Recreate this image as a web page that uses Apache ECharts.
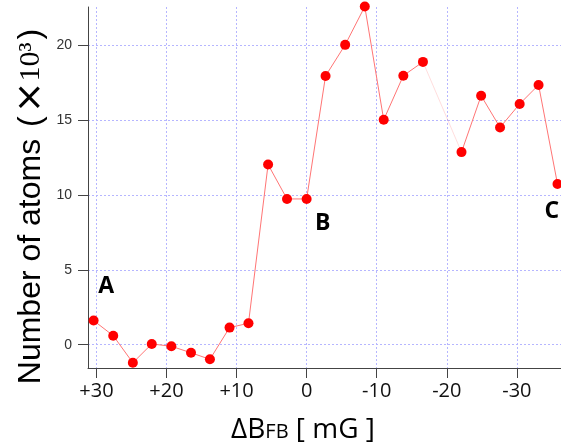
<!DOCTYPE html>
<html>
<head>
<meta charset="utf-8">
<script src="https://cdn.jsdelivr.net/npm/echarts@6/dist/echarts.min.js"></script>
<style>
html,body{margin:0;padding:0;background:#fff;}
#chart{width:561px;height:448px;}
</style>
</head>
<body>
<div id="chart"></div>
<script>
// Data
var deltaB = [30.4, 27.6, 24.8, 22.1, 19.3, 16.5, 13.8, 11.0, 8.3, 5.5, 2.8, 0, -2.7, -5.5, -8.3, -11.0, -13.8, -16.6, -22.1, -24.9, -27.6, -30.4, -33.1, -35.8];
var atoms = [1.61, 0.60, -1.21, 0.05, -0.11, -0.54, -0.98, 1.14, 1.43, 12.04, 9.74, 9.74, 17.96, 20.04, 22.6, 15.03, 17.98, 18.9, 12.87, 16.64, 14.52, 16.09, 17.36, 10.74];
var breakIndex = 18; // faint segment between index 17 and 18
var xTicks = [30, 20, 10, 0, -10, -20, -30];
var yTicks = [0, 5, 10, 15, 20];
var annotLabels = ['A', 'B', 'C'];
var annotX = [28.6, -2.3, -35.0];
var annotY = [3.9, 8.1, 8.9];

var pts = deltaB.map(function (x, i) { return [x, atoms[i]]; });
var part1 = pts.slice(0, breakIndex);
var part2 = pts.slice(breakIndex);
var faint = [pts[breakIndex - 1], pts[breakIndex]];
var annots = annotLabels.map(function (t, i) { return { value: [annotX[i], annotY[i]], name: t }; });

var lineStyle = { color: '#ff7575', width: 1 };
var itemStyle = { color: '#ff0000', opacity: 1 };
var gridLine = { show: true, lineStyle: { color: '#b6b6ff', width: 1, type: [2, 2] } };

var chart = echarts.init(document.getElementById('chart'), null, { renderer: 'canvas' });
chart.setOption({
  animation: false,
  backgroundColor: '#ffffff',
  grid: { left: 88, top: 7, right: 0, bottom: 80, containLabel: false },
  xAxis: {
    type: 'value',
    inverse: true,
    min: -36.3,
    max: 31.2,
    axisLine: { show: true, onZero: false, lineStyle: { color: '#444', width: 1 } },
    axisTick: { show: true, length: 10, customValues: xTicks, lineStyle: { color: '#444' } },
    axisLabel: {
      customValues: xTicks,
      margin: 13,
      fontFamily: 'Open Sans',
      fontSize: 20,
      color: '#111',
      formatter: function (v) { return v > 0 ? '+' + v : String(v); }
    },
    splitLine: gridLine
  },
  yAxis: {
    type: 'value',
    min: -1.56,
    max: 22.57,
    axisLine: { show: true, onZero: false, lineStyle: { color: '#444', width: 1 } },
    axisTick: { show: true, length: 10, customValues: yTicks, lineStyle: { color: '#444' } },
    axisLabel: {
      customValues: yTicks,
      margin: 16,
      fontFamily: 'Liberation Sans',
      fontSize: 14,
      color: '#333'
    },
    splitLine: gridLine
  },
  graphic: [
    {
      type: 'text',
      x: 31, y: 205,
      rotation: Math.PI / 2,
      style: {
        text: '{a|Number of atoms }{p|(}{x|×}{n|10³}{p|)}',
        align: 'center',
        verticalAlign: 'middle',
        fill: '#000',
        rich: {
          a: { fontFamily: 'Liberation Sans', fontSize: 32, fill: '#000' },
          p: { fontFamily: 'Liberation Sans', fontSize: 32, fill: '#000', padding: [0, 3, 0, 3] },
          x: { fontFamily: 'DejaVu Sans', fontSize: 38, fill: '#000' },
          n: { fontFamily: 'Liberation Serif', fontSize: 30, fill: '#000' }
        }
      }
    },
    {
      type: 'text',
      x: 303, y: 430,
      style: {
        text: '{a|ΔB}{s|FB}{a| [ mG ]}',
        align: 'center',
        verticalAlign: 'middle',
        fill: '#000',
        rich: {
          a: { fontFamily: 'Open Sans', fontSize: 28, fill: '#000', verticalAlign: 'bottom' },
          s: { fontFamily: 'Open Sans', fontSize: 20, fill: '#000', verticalAlign: 'bottom', padding: [0, 0, 2, 0] }
        }
      }
    }
  ],
  series: [
    {
      type: 'line', data: faint, symbol: 'none', clip: false,
      lineStyle: { color: 'rgba(255,120,120,0.25)', width: 1 }, z: 1
    },
    {
      type: 'line', data: part1, symbol: 'circle', symbolSize: 10, clip: false,
      lineStyle: lineStyle, itemStyle: itemStyle, z: 2
    },
    {
      type: 'line', data: part2, symbol: 'circle', symbolSize: 10, clip: false,
      lineStyle: lineStyle, itemStyle: itemStyle, z: 2
    },
    {
      type: 'scatter', data: annots, symbolSize: 0, clip: false, z: 3,
      itemStyle: { opacity: 1 },
      label: {
        show: true, position: 'inside', opacity: 1,
        formatter: function (p) { return p.name; },
        fontFamily: 'Open Sans', fontWeight: 'bold', fontSize: 23, color: '#000',
        textBorderWidth: 0
      }
    }
  ]
});
</script>
</body>
</html>
